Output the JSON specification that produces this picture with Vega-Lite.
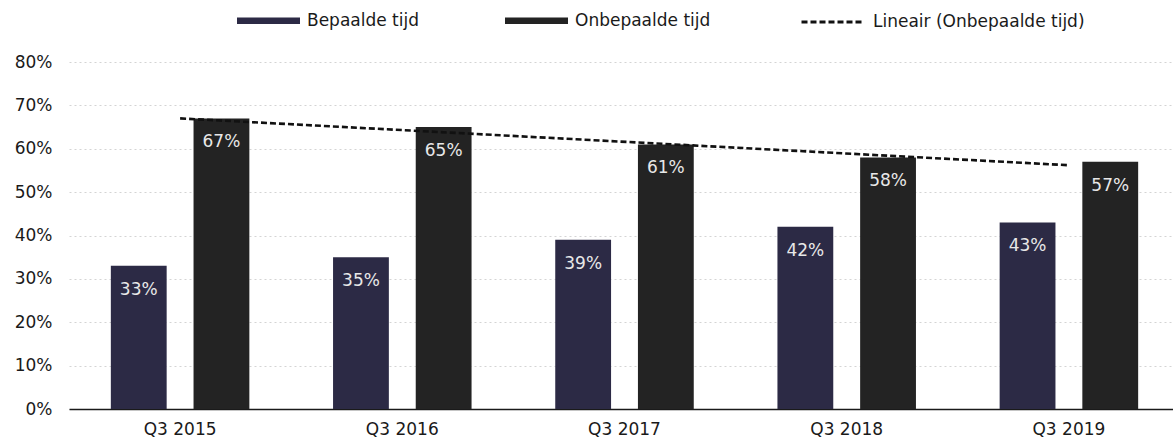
{
  "$schema": "https://vega.github.io/schema/vega-lite/v6.json",
  "width": 1104,
  "height": 347,
  "autosize": {"type": "none"},
  "padding": {"left": 69, "top": 62, "right": 0, "bottom": 34},
  "background": "white",
  "config": {"view": {"stroke": null}, "font": "DejaVu Sans"},
  "datasets": {
    "bars": [
      {"period": "Q3 2015", "type": "Bepaalde tijd", "value": 0.33},
      {"period": "Q3 2015", "type": "Onbepaalde tijd", "value": 0.67},
      {"period": "Q3 2016", "type": "Bepaalde tijd", "value": 0.35},
      {"period": "Q3 2016", "type": "Onbepaalde tijd", "value": 0.65},
      {"period": "Q3 2017", "type": "Bepaalde tijd", "value": 0.39},
      {"period": "Q3 2017", "type": "Onbepaalde tijd", "value": 0.61},
      {"period": "Q3 2018", "type": "Bepaalde tijd", "value": 0.42},
      {"period": "Q3 2018", "type": "Onbepaalde tijd", "value": 0.58},
      {"period": "Q3 2019", "type": "Bepaalde tijd", "value": 0.43},
      {"period": "Q3 2019", "type": "Onbepaalde tijd", "value": 0.57}
    ],
    "trend": [
      {"period": "Q3 2015", "trend": 0.67},
      {"period": "Q3 2019", "trend": 0.562}
    ]
  },
  "layer": [
    {
      "data": {"name": "bars"},
      "mark": {"type": "bar"},
      "encoding": {
        "x": {
          "field": "period", "type": "nominal", "sort": null,
          "scale": {"range": [0, 1111], "paddingInner": 0, "paddingOuter": 0},
          "axis": {"title": null, "labelAngle": 0, "labelFontSize": 17, "labelColor": "#1a1a1a", "ticks": false, "domainColor": "#1a1a1a", "domainWidth": 1.5, "labelPadding": 12, "grid": false}
        },
        "xOffset": {
          "field": "type", "type": "nominal", "sort": ["Bepaalde tijd", "Onbepaalde tijd"],
          "scale": {"paddingInner": 0.325, "paddingOuter": 0.506}
        },
        "y": {
          "field": "value", "type": "quantitative",
          "scale": {"domain": [0, 0.8], "nice": false},
          "axis": {"title": null, "format": ".0%", "values": [0, 0.1, 0.2, 0.3, 0.4, 0.5, 0.6, 0.7, 0.8], "labelFontSize": 17, "labelColor": "#1a1a1a", "ticks": false, "domain": false, "labelPadding": 17, "gridColor": "#d4d4d4", "gridDash": [2, 3], "gridWidth": 1}
        },
        "color": {
          "field": "type", "type": "nominal",
          "scale": {"domain": ["Bepaalde tijd", "Onbepaalde tijd"], "range": ["#2c2a45", "#232323"]},
          "legend": {"title": null, "orient": "none", "legendX": 168, "legendY": -73, "direction": "horizontal", "symbolType": "M-1,-0.1H1V0.1H-1Z", "symbolSize": 3969, "symbolStrokeWidth": 0, "labelFontSize": 17, "labelColor": "#1a1a1a", "labelOffset": 7, "labelLimit": 400, "columnPadding": 85}
        }
      }
    },
    {
      "data": {"name": "bars"},
      "mark": {"type": "text", "baseline": "alphabetic", "align": "center", "dy": 29, "fontSize": 17, "color": "#e8e8e8"},
      "encoding": {
        "x": {"field": "period", "type": "nominal", "sort": null},
        "xOffset": {"field": "type", "type": "nominal", "sort": ["Bepaalde tijd", "Onbepaalde tijd"]},
        "y": {"field": "value", "type": "quantitative"},
        "text": {"field": "value", "type": "quantitative", "format": ".0%"}
      }
    },
    {
      "data": {"name": "trend"},
      "mark": {"type": "line", "color": "#111111", "strokeWidth": 2.6},
      "encoding": {
        "x": {"field": "period", "type": "nominal", "sort": null},
        "y": {"field": "trend", "type": "quantitative"},
        "strokeDash": {
          "datum": "Lineair (Onbepaalde tijd)",
          "scale": {"domain": ["Lineair (Onbepaalde tijd)"], "range": [[6, 3]]},
          "legend": {"title": null, "orient": "none", "legendX": 731, "legendY": -73, "symbolType": "stroke", "symbolSize": 3969, "symbolStrokeWidth": 3, "symbolStrokeColor": "#111111", "labelFontSize": 17, "labelColor": "#1a1a1a", "labelOffset": 7, "labelLimit": 400}
        }
      }
    }
  ]
}
